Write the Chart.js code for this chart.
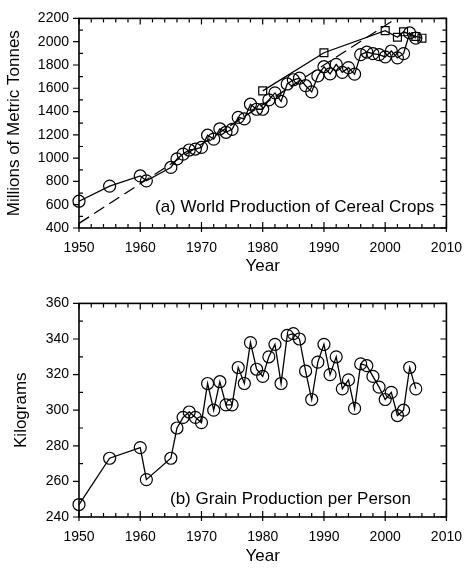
<!DOCTYPE html>
<html>
<head>
<meta charset="utf-8">
<script src="https://cdn.jsdelivr.net/npm/chart.js@4.4.1/dist/chart.umd.min.js"></script>
<style>
  body { margin: 0; background: #fff; }
  #top { position: absolute; left: 0; top: 0; }
  #bottom { position: absolute; left: 0; top: 285px; }
</style>
</head>
<body>
<canvas id="top" width="474" height="285"></canvas>
<canvas id="bottom" width="474" height="284"></canvas>
<script>
// Years shared by both circle series
const years = [1950, 1955, 1960, 1961, 1965, 1966, 1967, 1968, 1969, 1970,
  1971, 1972, 1973, 1974, 1975, 1976, 1977, 1978, 1979, 1980,
  1981, 1982, 1983, 1984, 1985, 1986, 1987, 1988, 1989, 1990,
  1991, 1992, 1993, 1994, 1995, 1996, 1997, 1998, 1999, 2000,
  2001, 2002, 2003, 2004, 2005];

// (a) World production of cereal crops, millions of metric tonnes
const cerealProduction = [630, 760, 847, 805, 920, 993, 1035, 1070, 1078, 1092,
  1197, 1163, 1252, 1222, 1247, 1350, 1337, 1463, 1420, 1420,
  1500, 1560, 1487, 1637, 1673, 1687, 1622, 1569, 1706, 1785,
  1723, 1805, 1737, 1777, 1721, 1889, 1911, 1897, 1889, 1869,
  1920, 1861, 1897, 2075, 2030];

// squares series
const squareYears = [1980, 1990, 2000, 2002, 2003, 2005, 2006];
const squareValues = [1578, 1905, 2095, 2038, 2085, 2045, 2030];

// dashed trend line (end points)
const trendYears = [1950, 2001.8];
const trendValues = [440, 2200];

// (b) Grain production per person, kilograms
const grainPerPerson = [247, 273, 279, 261, 273, 290, 296, 299, 296, 293,
  315, 300, 316, 303, 303, 324, 315, 338, 323, 319,
  330, 337, 315, 342, 343, 340, 322, 306, 327, 337,
  320, 330, 312, 317, 301, 326, 325, 319, 313, 306,
  310, 297, 300, 324, 312];

const fuente = '"Liberation Sans", Arial, sans-serif';

function puntos(xs, ys) {
  return xs.map((x, i) => ({ x: x, y: ys[i] }));
}

// marco y marcas de los ejes
const marcoPlugin = {
  id: 'marco',
  afterDatasetsDraw(chart, args, opts) {
    const { ctx, chartArea: a, scales } = chart;
    const sx = scales.x, sy = scales.y;
    ctx.save();
    ctx.strokeStyle = '#000';
    ctx.lineWidth = 1.6;
    ctx.strokeRect(a.left, a.top, a.right - a.left, a.bottom - a.top);
    ctx.lineWidth = 1.2;
    ctx.beginPath();
    // x ticks: minor every 2 years, major every 10
    for (let v = sx.min; v <= sx.max; v += 2) {
      const px = sx.getPixelForValue(v);
      const mayor = v % 10 === 0;
      const len = mayor ? 6 : 4;
      ctx.moveTo(px, a.bottom + (mayor ? 4 : 0));
      ctx.lineTo(px, a.bottom - len);
      ctx.moveTo(px, a.top);
      ctx.lineTo(px, a.top + len);
    }
    // y ticks
    for (let v = sy.min; v <= sy.max; v += opts.menor) {
      const py = sy.getPixelForValue(v);
      const mayor = Math.round((v - sy.min) / opts.menor) % 2 === 0;
      if (mayor) {
        ctx.moveTo(a.left - 6, py);
        ctx.lineTo(a.left, py);
        ctx.moveTo(a.right, py);
        ctx.lineTo(a.right - 6, py);
      } else {
        ctx.moveTo(a.left, py);
        ctx.lineTo(a.left + 4, py);
        ctx.moveTo(a.right, py);
        ctx.lineTo(a.right - 4, py);
      }
    }
    ctx.stroke();
    // rotulo dentro del grafico
    ctx.fillStyle = '#000';
    ctx.font = '17px ' + fuente;
    ctx.textBaseline = 'middle';
    ctx.textAlign = 'left';
    ctx.fillText(opts.texto, a.left + opts.dx, a.bottom - opts.dy);
    ctx.restore();
  }
};

function opcionesEjes(ymin, ymax, ypaso, ytitulo, xTituloPad, yTituloPad, xAlto) {
  return {
    x: {
      type: 'linear',
      min: 1950,
      max: 2010,
      grid: { display: false, drawTicks: false },
      border: { display: false },
      ticks: { stepSize: 10, padding: 12, color: '#000', font: { family: fuente, size: 14 }, callback: v => String(v) },
      title: { display: true, text: 'Year', color: '#000', font: { family: fuente, size: 17 }, padding: { top: 0, bottom: xTituloPad } },
      afterFit: s => { s.height = xAlto; }
    },
    y: {
      min: ymin,
      max: ymax,
      grid: { display: false, drawTicks: false },
      border: { display: false },
      ticks: { stepSize: ypaso, padding: 10, color: '#000', font: { family: fuente, size: 14 }, callback: v => String(v) },
      title: { display: true, text: ytitulo, color: '#000', font: { family: fuente, size: 17 }, padding: { top: yTituloPad, bottom: 0 } },
      afterFit: s => { s.width = 79; }
    }
  };
}

const circulo = {
  borderColor: '#000',
  borderWidth: 1.3,
  pointStyle: 'circle',
  pointRadius: 6,
  pointBorderWidth: 1.2,
  pointBackgroundColor: 'rgba(0,0,0,0)',
  pointBorderColor: '#000',
  showLine: true,
  tension: 0,
  clip: false
};

new Chart(document.getElementById('top'), {
  type: 'scatter',
  data: {
    datasets: [
      {
        data: puntos(trendYears, trendValues),
        showLine: true,
        borderColor: '#000',
        borderWidth: 1.3,
        borderDash: [12, 6],
        pointRadius: 0
      },
      Object.assign({ data: puntos(squareYears, squareValues) }, circulo, {
        pointStyle: 'rect',
        pointRadius: 5.6
      }),
      Object.assign({ data: puntos(years, cerealProduction) }, circulo)
    ]
  },
  options: {
    responsive: false,
    animation: false,
    layout: { padding: { left: 0, right: 15, top: 14, bottom: 0 } },
    plugins: {
      legend: { display: false },
      tooltip: { enabled: false },
      marco: { menor: 100, texto: '(a) World Production of Cereal Crops', dx: 76, dy: 21 }
    },
    scales: opcionesEjes(400, 2200, 200, 'Millions of Metric Tonnes', 8, 4, 57)
  },
  plugins: [marcoPlugin]
});

new Chart(document.getElementById('bottom'), {
  type: 'scatter',
  data: {
    datasets: [
      Object.assign({ data: puntos(years, grainPerPerson) }, circulo)
    ]
  },
  options: {
    responsive: false,
    animation: false,
    layout: { padding: { left: 0, right: 15, top: 17, bottom: 0 } },
    plugins: {
      legend: { display: false },
      tooltip: { enabled: false },
      marco: { menor: 10, texto: '(b) Grain Production per Person', dx: 91, dy: 18 }
    },
    scales: opcionesEjes(240, 360, 20, 'Kilograms', 2, 11, 52)
  },
  plugins: [marcoPlugin]
});
</script>
</body>
</html>
